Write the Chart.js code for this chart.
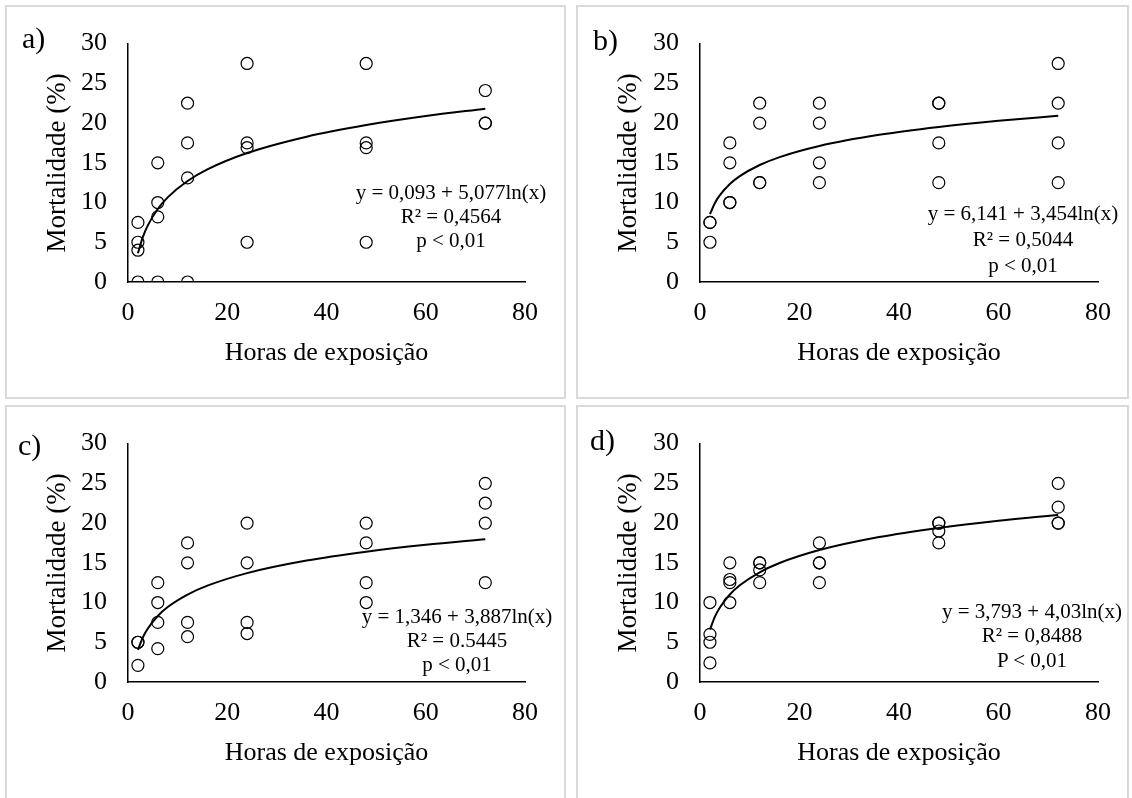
<!DOCTYPE html>
<html lang="pt">
<head>
<meta charset="UTF-8">
<title>Mortalidade x Horas de exposição</title>
<script src="https://cdn.jsdelivr.net/npm/chart.js"></script>
<style>
  body { margin: 0; background: #fff; width: 1132px; height: 798px; overflow: hidden; position: relative; font-family: 'Liberation Serif', 'Times New Roman', serif; }
  .painel { position: absolute; border: 2px solid #d9d9d9; box-sizing: border-box; }
  .painel canvas { position: absolute; left: 0; top: 0; }
  .txt { position: absolute; transform: translate(-50%, -50%); white-space: nowrap; color: #000; }
  .rot { font-size: 30px; transform: translate(0, -50%); }
  .eq { font-size: 21px; }
</style>
</head>
<body>
<div class="painel" style="left:5px;top:5px;width:561px;height:394px"><canvas id="grafA"></canvas></div>
<div class="painel" style="left:576px;top:5px;width:553px;height:394px"><canvas id="grafB"></canvas></div>
<div class="painel" style="left:5px;top:405px;width:561px;height:420px"><canvas id="grafC"></canvas></div>
<div class="painel" style="left:576px;top:405px;width:553px;height:420px"><canvas id="grafD"></canvas></div>

<div class="txt rot" style="left:22px;top:38px">a)</div>
<div class="txt rot" style="left:593px;top:40px">b)</div>
<div class="txt rot" style="left:18px;top:445px">c)</div>
<div class="txt rot" style="left:590px;top:440px">d)</div>

<div class="txt eq" style="left:451px;top:192px">y = 0,093 + 5,077ln(x)</div>
<div class="txt eq" style="left:451px;top:216px">R² = 0,4564</div>
<div class="txt eq" style="left:451px;top:240px">p &lt; 0,01</div>

<div class="txt eq" style="left:1023px;top:213px">y = 6,141 + 3,454ln(x)</div>
<div class="txt eq" style="left:1023px;top:239px">R² = 0,5044</div>
<div class="txt eq" style="left:1023px;top:265px">p &lt; 0,01</div>

<div class="txt eq" style="left:457px;top:616px">y = 1,346 + 3,887ln(x)</div>
<div class="txt eq" style="left:457px;top:640px">R² = 0.5445</div>
<div class="txt eq" style="left:457px;top:664px">p &lt; 0,01</div>

<div class="txt eq" style="left:1032px;top:611px">y = 3,793 + 4,03ln(x)</div>
<div class="txt eq" style="left:1032px;top:635px">R² = 0,8488</div>
<div class="txt eq" style="left:1032px;top:660px">P &lt; 0,01</div>

<script>
// horas de exposição (eixo x) e mortalidade observada (%) em cada tempo
const horas = [2, 6, 12, 24, 48, 72];
const mortA = [[7.5, 5, 4, 0], [15, 10, 8.2, 0], [22.5, 17.5, 13.1, 0], [27.5, 17.5, 16.9, 5], [27.5, 17.5, 16.9, 5], [24.1, 20, 20]];
const mortB = [[7.5, 7.5, 5], [17.5, 15, 10, 10], [22.5, 20, 12.5, 12.5], [22.5, 20, 15, 12.5], [22.5, 22.5, 17.5, 12.5], [27.5, 22.5, 17.5, 12.5]];
const mortC = [[5, 5, 2.1], [12.5, 10, 7.5, 4.2], [17.5, 15, 7.5, 5.7], [20, 15, 7.5, 6.1], [20, 17.5, 12.5, 10], [25, 22.5, 20, 12.5]];
const mortD = [[10, 6, 5, 2.4], [15, 12.9, 12.5, 10], [15, 15, 14.1, 12.5], [17.5, 15, 15, 12.5], [20, 20, 19, 17.5], [25, 22, 20, 20]];

// curva de tendência
const tendX = [2, 3, 4, 6, 8, 12, 16, 24, 36, 48, 60, 72];
const tendA = [3.61, 5.67, 7.13, 9.19, 10.65, 12.71, 14.17, 16.23, 18.29, 19.75, 20.88, 21.81];
const tendB = [8.53, 9.94, 10.93, 12.33, 13.32, 14.72, 15.72, 17.12, 18.52, 19.51, 20.28, 20.91];
const tendC = [4.04, 5.62, 6.73, 8.31, 9.43, 11.00, 12.12, 13.70, 15.28, 16.39, 17.26, 17.97];
const tendD = [6.59, 8.22, 9.38, 11.01, 12.17, 13.81, 14.97, 16.60, 18.24, 19.39, 20.29, 21.03];

const ticksX = [0, 20, 40, 60, 80];
const ticksY = [0, 5, 10, 15, 20, 25, 30];

const fonte = "'Liberation Serif', 'Times New Roman', serif";

function pontos(mort) {
    const out = [];
    horas.forEach((h, i) => mort[i].forEach(v => out.push({x: h, y: v})));
    return out;
}

function desenha(id, w, h, area, mort, tend) {
    const cv = document.getElementById(id);
    cv.width = w; cv.height = h;
    cv.style.width = w + 'px'; cv.style.height = h + 'px';
    new Chart(cv, {
        type: 'scatter',
        data: {
            datasets: [{
                data: pontos(mort),
                pointRadius: 6,
                pointBorderWidth: 1.2,
                pointBorderColor: '#000',
                pointBackgroundColor: 'rgba(0,0,0,0)'
            }, {
                type: 'line',
                data: tendX.map((x, i) => ({x: x, y: tend[i]})),
                borderColor: '#000',
                borderWidth: 2,
                pointRadius: 0,
                fill: false,
                cubicInterpolationMode: 'monotone'
            }]
        },
        options: {
            responsive: false,
            animation: false,
            layout: { padding: { left: 0, top: area.t, right: w - area.r, bottom: 0 } },
            plugins: { legend: { display: false }, tooltip: { enabled: false } },
            scales: {
                x: {
                    type: 'linear', min: 0, max: 80,
                    afterBuildTicks: s => { s.ticks = ticksX.map(v => ({value: v})); },
                    afterFit: s => { s.height = h - area.b; },
                    grid: { drawOnChartArea: false, drawTicks: false },
                    border: { display: true, color: '#000', width: 1.5 },
                    ticks: { color: '#000', padding: 16, font: { family: fonte, size: 26 } },
                    title: { display: true, text: 'Horas de exposição', color: '#000', padding: { top: 0, bottom: 28 }, font: { family: fonte, size: 26 } }
                },
                y: {
                    type: 'linear', min: 0, max: 30,
                    afterBuildTicks: s => { s.ticks = ticksY.map(v => ({value: v})); },
                    afterFit: s => { s.width = area.l; },
                    grid: { drawOnChartArea: false, drawTicks: false },
                    border: { display: true, color: '#000', width: 1.5 },
                    ticks: { color: '#000', padding: 21, font: { family: fonte, size: 26 } },
                    title: { display: true, text: 'Mortalidade (%)', color: '#000', padding: { top: 35, bottom: 0 }, font: { family: fonte, size: 27 } }
                }
            }
        }
    });
}

desenha('grafA', 557, 390, {l: 121, r: 518, t: 28, b: 275}, mortA, tendA);
desenha('grafB', 549, 390, {l: 122, r: 520, t: 28, b: 275}, mortB, tendB);
desenha('grafC', 557, 390, {l: 121, r: 518, t: 31, b: 275}, mortC, tendC);
desenha('grafD', 549, 390, {l: 122, r: 520, t: 31, b: 275}, mortD, tendD);
</script>
</body>
</html>
